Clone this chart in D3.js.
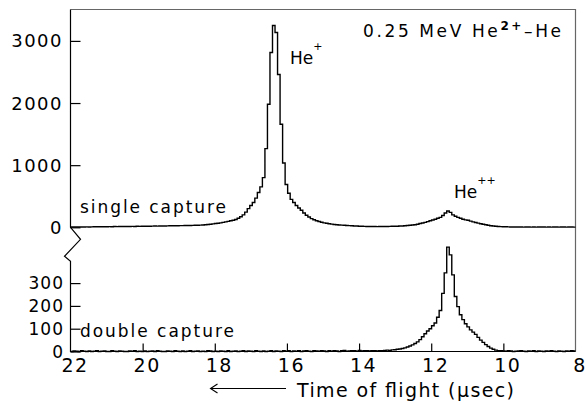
<!DOCTYPE html>
<html>
<head>
<meta charset="utf-8">
<script src="https://cdn.jsdelivr.net/npm/d3@7"></script>
<style>
  html, body { margin: 0; padding: 0; background: #fff; }
  svg { display: block; }
  text { font-family: "DejaVu Sans", sans-serif; fill: #000; }
</style>
</head>
<body>
<svg id="chart" width="586" height="403"></svg>
<script>
// Time-of-flight histogram: 0.07 µs channels starting at 22 µs, running toward 8 µs
const binStart = 22;
const binWidth = 0.07;

// Counts per channel, single-capture events (He+ peak near 16.4 µs, He++ bump near 11.6 µs)
const singleCapture = [
  4, 5, 4, 6, 5, 6, 7, 6, 7, 8,
  8, 9, 8, 10, 9, 11, 10, 12, 11, 12,
  13, 12, 14, 13, 15, 14, 16, 15, 17, 16,
  18, 17, 19, 20, 19, 21, 22, 21, 23, 24,
  24, 26, 25, 27, 27, 28, 29, 30, 31, 32,
  33, 35, 38, 42, 46, 50, 55, 60, 66, 72,
  80, 88, 96, 105, 113, 125, 145, 170, 200, 245,
  300, 350, 400, 470, 560, 650, 800, 1267, 1981, 2813,
  3248, 3135, 2459, 1659, 1035, 688, 547, 450, 400, 350,
  310, 274, 230, 195, 165, 140, 122, 106, 94, 82,
  72, 64, 57, 51, 46, 42, 38, 35, 32, 30,
  27, 25, 22, 20, 18, 16, 15, 14, 13, 12,
  12, 11, 12, 13, 13, 14, 15, 16, 17, 18,
  20, 22, 25, 28, 32, 36, 42, 50, 60, 70,
  80, 92, 105, 118, 130, 145, 160, 190, 230, 262,
  240, 200, 177, 160, 145, 130, 120, 113, 100, 88,
  78, 68, 58, 48, 40, 32, 26, 21, 17, 14,
  11, 9, 8, 7, 6, 5, 4, 5, 4, 3,
  4, 5, 3, 4, 3, 4, 5, 4, 3, 4,
  3, 4, 5, 3, 4, 4, 3, 5, 4, 3
];

// Counts per channel, double-capture events (peak near 11.6 µs)
const doubleCapture = [
  0, 2, 1, 0, 3, 1, 0, 2, 0, 1,
  3, 0, 1, 2, 0, 0, 3, 1, 0, 2,
  1, 0, 0, 2, 1, 3, 0, 1, 0, 2,
  0, 1, 2, 0, 3, 1, 0, 0, 2, 1,
  0, 3, 1, 0, 2, 0, 1, 3, 0, 1,
  2, 0, 1, 0, 3, 2, 0, 1, 0, 2,
  1, 0, 3, 0, 1, 2, 0, 1, 4, 0,
  2, 1, 0, 3, 1, 0, 2, 0, 1, 3,
  0, 2, 1, 0, 3, 1, 4, 0, 2, 1,
  3, 0, 2, 4, 1, 0, 3, 2, 1, 4,
  2, 0, 3, 1, 4, 2, 0, 3, 5, 1,
  2, 4, 3, 1, 5, 2, 3, 4, 2, 3,
  3, 2, 4, 3, 5, 6, 5, 7, 8, 10,
  11, 13, 16, 20, 24, 29, 35, 42, 52, 65,
  78, 90, 100, 113, 125, 150, 180, 255, 345, 458,
  424, 336, 241, 197, 161, 140, 122, 108, 95, 85,
  75, 62, 50, 40, 30, 22, 15, 10, 6, 4,
  3, 2, 1, 3, 2, 0, 1, 2, 3, 1,
  0, 2, 1, 3, 0, 2, 1, 0, 2, 1,
  3, 1, 0, 2, 1, 0, 2, 1, 3, 2
];

const xTicks = [22, 20, 18, 16, 14, 12, 10, 8];
const upperTicks = [0, 1000, 2000, 3000];
const lowerTicks = [0, 100, 200, 300];

const svg = d3.select("#chart");

const plotLeft = 70.5, plotRight = 575.5, plotTop = 9.5, plotBottom = 351.5;

const x = d3.scaleLinear().domain([22, 8]).range([plotLeft, plotRight]);
const yUp = d3.scaleLinear().domain([0, 3000]).range([227.3, 40.9]);
const yLow = d3.scaleLinear().domain([0, 400]).range([plotBottom, plotBottom - 91.2]);

// histogram outline as steps through channel edges
function stepPoints(counts) {
  const pts = counts.map((c, i) => [binStart - i * binWidth, c]);
  pts.push([binStart - counts.length * binWidth, counts[counts.length - 1]]);
  return pts;
}

const lineUp = d3.line().x(d => x(d[0])).y(d => yUp(d[1])).curve(d3.curveStepAfter);
const lineLow = d3.line().x(d => x(d[0])).y(d => yLow(d[1])).curve(d3.curveStepAfter);

// frame: top and right border
svg.append("path")
  .attr("d", `M${plotLeft},${plotTop}H${plotRight}V${plotBottom}`)
  .attr("fill", "none").attr("stroke", "#666").attr("stroke-width", 1.2);

// left axis with break mark between the panels, plus bottom axis
const yBreak = yUp(0);
svg.append("path")
  .attr("d", `M${plotLeft},${plotTop}V${yBreak}L${plotLeft + 10},${yBreak + 12}L${plotLeft - 6},${yBreak + 29}L${plotLeft},${yBreak + 34}V${plotBottom}H${plotRight}`)
  .attr("fill", "none").attr("stroke", "#000").attr("stroke-width", 1.2);

// ticks point inward
const axUp = svg.append("g").attr("transform", `translate(${plotLeft},0)`)
  .call(d3.axisRight(yUp).tickValues(upperTicks).tickSize(10).tickFormat(""));
const axLow = svg.append("g").attr("transform", `translate(${plotLeft},0)`)
  .call(d3.axisRight(yLow).tickValues(lowerTicks).tickSize(10).tickFormat(""));
const axX = svg.append("g").attr("transform", `translate(0,${plotBottom})`)
  .call(d3.axisTop(x).tickValues(xTicks.slice(1, -1)).tickSize(8).tickFormat(""));
[axUp, axLow, axX].forEach(g => {
  g.select(".domain").remove();
  g.selectAll("line").attr("stroke", "#000").attr("stroke-width", 1.2);
});

// tick labels
svg.append("g").selectAll("text").data(upperTicks).join("text")
  .attr("x", 63).attr("y", d => yUp(d)).attr("dy", "0.36em")
  .attr("text-anchor", "end").style("font-size", "18px").style("letter-spacing", "1.5px")
  .text(d => d);
svg.append("g").selectAll("text").data(lowerTicks).join("text")
  .attr("x", 64).attr("y", d => yLow(d)).attr("dy", "0.36em")
  .attr("text-anchor", "end").style("font-size", "17px").style("letter-spacing", "1px")
  .text(d => d);
svg.append("g").selectAll("text").data(xTicks).join("text")
  .attr("x", d => x(d) + 4.5).attr("y", 371.7)
  .attr("text-anchor", "middle").style("font-size", "19px").style("letter-spacing", "1.5px")
  .text(d => d);

// histograms
svg.append("path").attr("d", lineUp(stepPoints(singleCapture)))
  .attr("fill", "none").attr("stroke", "#000").attr("stroke-width", 1.4);
svg.append("path").attr("d", lineLow(stepPoints(doubleCapture)))
  .attr("fill", "none").attr("stroke", "#000").attr("stroke-width", 1.4);

// annotations
const label = (tx, ty, size, str, width) => {
  const t = svg.append("text").attr("x", tx).attr("y", ty)
    .style("font-size", size + "px").text(str);
  if (width) t.attr("textLength", width).attr("lengthAdjust", "spacing");
  return t;
};

label(80, 212.7, 17, "single capture", 146);
label(80, 337.3, 17, "double capture", 154);

const hePlus = label(290, 64, 17, "He");
hePlus.append("tspan").attr("dy", -14).attr("dx", 0).style("font-size", "11px").text("+");
const hePP = label(454, 198.3, 17, "He");
hePP.append("tspan").attr("dy", -14).attr("dx", 0).style("font-size", "11px").text("++");

const title = svg.append("text").attr("x", 363).attr("y", 37.3)
  .attr("textLength", 198).attr("lengthAdjust", "spacing")
  .style("font-size", "17px");
title.append("tspan").text("0.25 MeV He");
title.append("tspan").attr("dy", -7).style("font-size", "12px").style("font-weight", "bold").text("2+");
title.append("tspan").attr("dy", 7).text("\u2013He");

// x-axis title with arrow toward longer flight times
svg.append("path")
  .attr("d", "M286,388.5H210.5M217.5,384L210.5,388.5L217.5,393")
  .attr("fill", "none").attr("stroke", "#000").attr("stroke-width", 1.1);
svg.append("text").attr("x", 297).attr("y", 396.7)
  .attr("textLength", 217).attr("lengthAdjust", "spacing")
  .style("font-size", "19px")
  .text("Time of flight (\u00b5sec)");
</script>
</body>
</html>
